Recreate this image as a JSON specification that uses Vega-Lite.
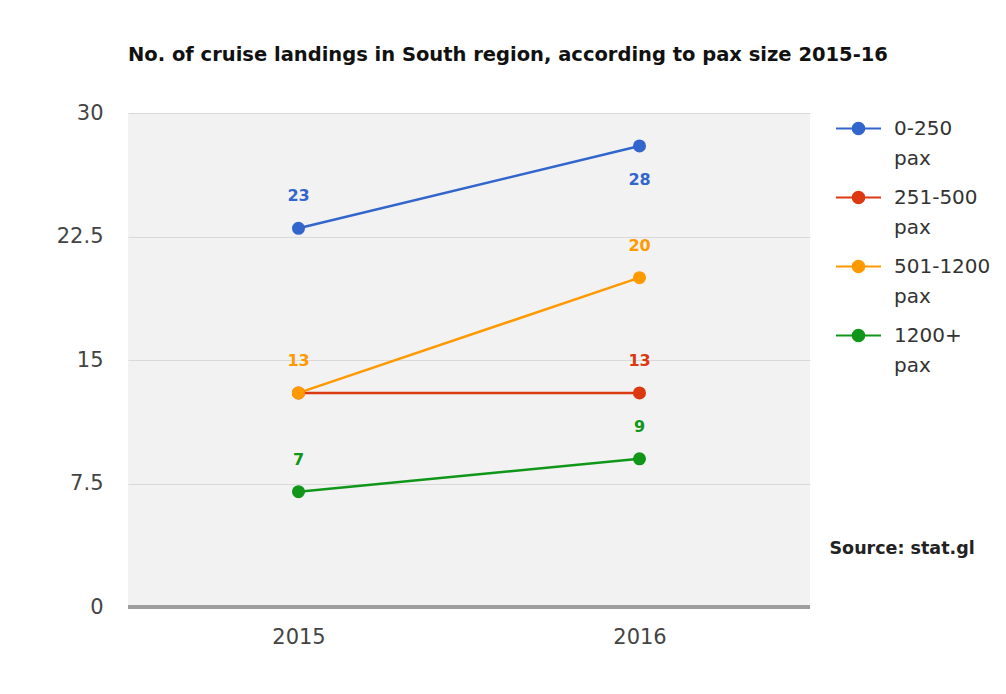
{
  "$schema": "https://vega.github.io/schema/vega-lite/v6.json",
  "width": 682,
  "height": 494,
  "autosize": {"type": "none"},
  "padding": {"left": 128, "top": 113, "right": 196, "bottom": 87},
  "background": "white",
  "view": {"fill": "#f2f2f2", "stroke": null},
  "title": {
    "text": "No. of cruise landings in South region, according to pax size 2015-16",
    "anchor": "start",
    "frame": "group",
    "font": "DejaVu Sans",
    "fontSize": 19.5,
    "fontWeight": "bold",
    "color": "#111111",
    "offset": 37
  },
  "config": {
    "view": {"fill": "#f2f2f2", "stroke": null},
    "font": "DejaVu Sans"
  },
  "data": {
    "values": [
      {"year": "2015", "series": "0-250 pax", "value": 23},
      {"year": "2015", "series": "251-500 pax", "value": 13},
      {"year": "2015", "series": "501-1200 pax", "value": 13},
      {"year": "2015", "series": "1200+ pax", "value": 7},
      {"year": "2016", "series": "0-250 pax", "value": 28},
      {"year": "2016", "series": "251-500 pax", "value": 13},
      {"year": "2016", "series": "501-1200 pax", "value": 20},
      {"year": "2016", "series": "1200+ pax", "value": 9}
    ]
  },
  "encoding": {
    "x": {
      "field": "year",
      "type": "ordinal",
      "scale": {"type": "point", "padding": 0.5},
      "axis": {
        "title": null,
        "labelAngle": 0,
        "labelFont": "DejaVu Sans",
        "labelFontSize": 21,
        "labelColor": "#444444",
        "labelPadding": 19,
        "ticks": false,
        "domain": false,
        "grid": false
      }
    },
    "y": {
      "field": "value",
      "type": "quantitative",
      "scale": {"domain": [0, 30], "nice": false},
      "axis": {
        "title": null,
        "values": [0, 7.5, 15, 22.5, 30],
        "labelExpr": "'' + datum.value",
        "labelFont": "DejaVu Sans",
        "labelFontSize": 21,
        "labelColor": "#444444",
        "labelPadding": 25,
        "ticks": false,
        "domain": false,
        "gridColor": "#d9d9d9",
        "gridWidth": 1.2
      }
    },
    "color": {
      "field": "series",
      "type": "nominal",
      "scale": {
        "domain": ["0-250 pax", "251-500 pax", "501-1200 pax", "1200+ pax"],
        "range": ["#3366cc", "#dc3912", "#ff9900", "#109618"]
      },
      "legend": {
        "title": null,
        "orient": "none",
        "legendX": 707,
        "legendY": -8,
        "padding": 0,
        "symbolType": "M-1,0L1,0M-0.26,0A0.26,0.26,0,1,1,0.26,0A0.26,0.26,0,1,1,-0.26,0Z",
        "symbolSize": 2025,
        "symbolStrokeWidth": 2,
        "labelFont": "DejaVu Sans",
        "labelFontSize": 20,
        "labelColor": "#333333",
        "labelOffset": 12,
        "labelExpr": "split(datum.label, ' ')",
        "labelBaseline": "top",
        "rowPadding": 5,
        "encode": {
          "symbols": {"update": {"stroke": {"scale": "color", "field": "value"}, "strokeWidth": {"value": 2}}},
          "labels": {"update": {"lineHeight": {"value": 30}, "dy": {"value": -10}}}
        }
      }
    }
  },
  "layer": [
    {
      "mark": {"type": "rule", "color": "#9e9e9e", "strokeWidth": 3},
      "encoding": {"y": {"datum": 0}, "x": null, "color": null}
    },
    {
      "mark": {"type": "line", "strokeWidth": 2.5},
      "encoding": {"order": {"field": "year"}}
    },
    {
      "mark": {"type": "point", "filled": true, "opacity": 1, "size": 170}
    },
    {
      "transform": [
        {"filter": "!(datum.series == '251-500 pax' && datum.year == '2015') && !(datum.series == '0-250 pax' && datum.year == '2016')"}
      ],
      "mark": {"type": "text", "font": "DejaVu Sans", "fontSize": 16, "fontWeight": "bold", "dy": -32, "baseline": "middle"},
      "encoding": {"text": {"field": "value", "type": "quantitative"}}
    },
    {
      "transform": [
        {"filter": "datum.series == '0-250 pax' && datum.year == '2016'"}
      ],
      "mark": {"type": "text", "font": "DejaVu Sans", "fontSize": 16, "fontWeight": "bold", "dy": 34, "baseline": "middle"},
      "encoding": {"text": {"field": "value", "type": "quantitative"}}
    },
    {
      "data": {"values": [{"src": "Source: stat.gl"}]},
      "mark": {"type": "point", "opacity": 0, "filled": true},
      "encoding": {
        "x": null,
        "y": null,
        "color": null,
        "fill": {
          "field": "src",
          "type": "nominal",
          "scale": {"range": ["#ffffff"]},
          "legend": {
            "title": null,
            "orient": "none",
            "legendX": 684,
            "legendY": 427,
            "padding": 0,
            "symbolSize": 0,
            "symbolOpacity": 0,
            "labelOffset": 0,
            "labelFont": "DejaVu Sans",
            "labelFontSize": 17.5,
            "labelFontWeight": "bold",
            "labelColor": "#222222",
            "labelLimit": 300
          }
        }
      }
    }
  ]
}
